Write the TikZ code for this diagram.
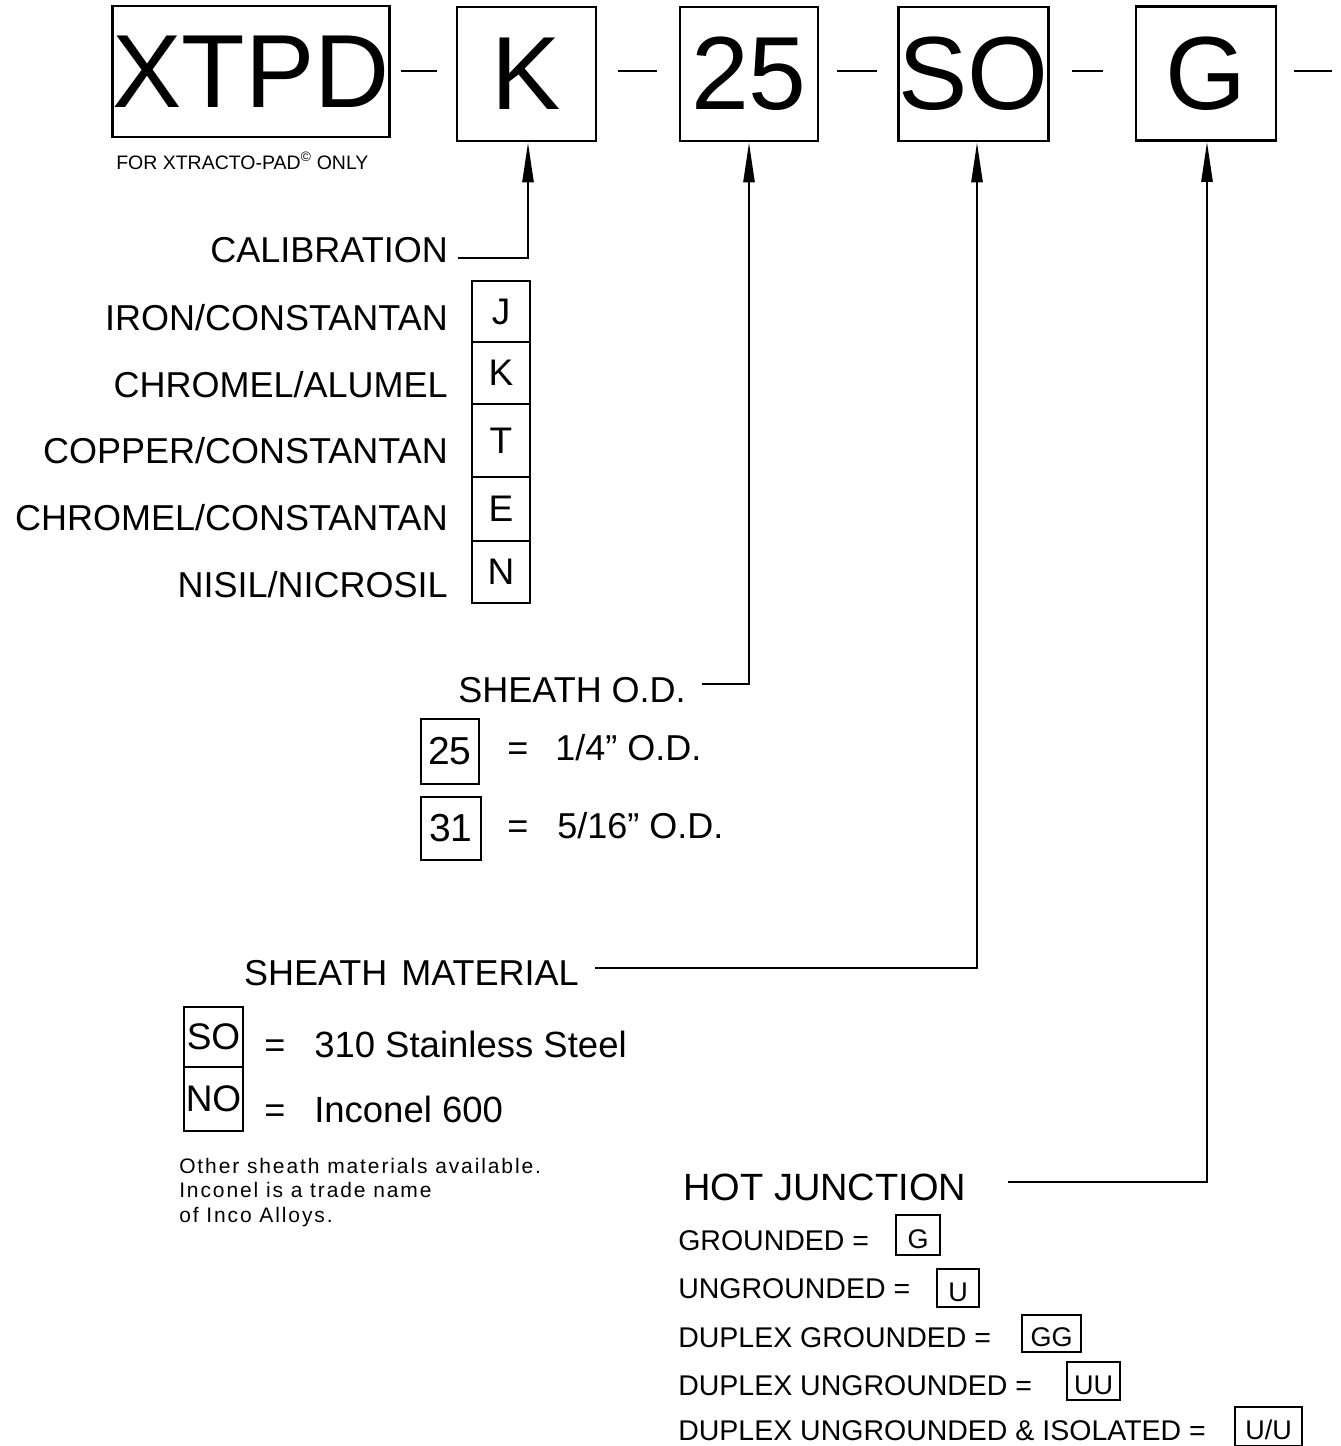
\documentclass[tikz,border=0pt]{standalone}
\usepackage{fontspec}
\setmainfont{Liberation Sans}
\newfontfamily\notefont[LetterSpace=9]{Liberation Sans}
\usetikzlibrary{arrows.meta}
\newcommand{\fsz}[1]{\fontsize{#1}{#1}\selectfont}

\begin{document}
\begin{tikzpicture}[
  x=1pt, y=-1pt,
  line width=2.5pt,
  codebox/.style={draw, inner sep=0pt, minimum height=134pt, font=\fsz{104}},
  keybox/.style={draw, line width=2pt, inner sep=0pt, font=\fsz{37}},
  tinybox/.style={draw, line width=2pt, inner sep=0pt, text height=26pt, text depth=0pt, font=\fsz{27}},
  lbl/.style={inner sep=0pt, font=\fsz{36}},
  entry/.style={inner sep=0pt, anchor=base west, font=\fsz{28.5}},
  feed/.style={-{Triangle[length=40pt,width=11pt]}}
]
\useasboundingbox (0,0) rectangle (1341,1446);
% part number
\node[codebox, minimum width=276pt, minimum height=131pt] (xtpd) at (251,71.5) {XTPD};
\node[codebox, minimum width=139pt] (calib) at (526.5,74) {K};
\node[codebox, minimum width=138pt] (od) at (749,74) {25};
\node[codebox, minimum width=139pt] (mat) at (973.5,74) {SO};
\node[codebox, minimum width=140pt] (junc) at (1206,73.5) {G};
\foreach \a/\b in {401/437, 618/657, 837/877, 1072/1103, 1294/1332}
  \draw[line width=2pt] (\a,71) -- (\b,71);
\node[inner sep=0pt, anchor=base west, font=\fsz{19.5}] (padnote) at (115,169)
  {FOR XTRACTO-PAD\textsuperscript{\textcopyright} ONLY};

% calibration
\node[lbl, anchor=base east] (callbl) at (449,262) {CALIBRATION};
\coordinate (calturn) at (528,258);
\draw[feed] ([xshift=9pt]callbl.east |- calturn) -- (calturn) -- (calturn |- calib.south);
\foreach \txt/\ltr/\base/\mid/\hgt in {{IRON/CONSTANTAN}/J/330/311.5/61,
    {CHROMEL/ALUMEL}/K/397/373/62, {COPPER/CONSTANTAN}/T/463/440.5/73,
    {CHROMEL/CONSTANTAN}/E/530/509/64, {NISIL/NICROSIL}/N/597/572/62}{
  \node[lbl, anchor=base east] (cal-\ltr) at (449,\base) {\txt};
  \node[keybox, minimum width=58pt, minimum height=\hgt pt] (key-\ltr) at (501,\mid) {\ltr};
}

% sheath o.d.
\node[lbl, anchor=base east] (odlbl) at (687,702) {SHEATH O.D.};
\coordinate (odturn) at (749,684);
\draw[feed] ([xshift=15pt]odlbl.east |- odturn) -- (odturn) -- (od.south);
\node[keybox, minimum width=58pt, minimum height=65pt, font=\fsz{39}] (od25) at (450,751.5) {25};
\node[keybox, minimum width=60pt, minimum height=63pt, font=\fsz{39}] (od31) at (451,828.5) {31};
\node[lbl, anchor=base west] (od25eq) at (506,760) {=};
\node[lbl, anchor=base west] (od25txt) at (554,760) {1/4” O.D.};
\node[lbl, anchor=base west] (od31eq) at (506,838) {=};
\node[lbl, anchor=base west] (od31txt) at (556,838) {5/16” O.D.};

% sheath material
\node[lbl, anchor=base east] (matlbl) at (580,985) {SHEATH\hspace{4pt} MATERIAL};
\coordinate (matturn) at (977,968);
\draw[feed] ([xshift=15pt]matlbl.east |- matturn) -- (matturn) -- (matturn |- mat.south);
\node[keybox, minimum width=59pt, minimum height=60pt] (matso) at (213.5,1037) {SO};
\node[keybox, minimum width=59pt, minimum height=64pt] (matno) at (213.5,1099) {NO};
\node[lbl, anchor=base west] (matsoeq) at (263,1057) {=};
\node[lbl, anchor=base west, font=\fsz{36.5}] (matsotxt) at (313,1057) {310 Stainless Steel};
\node[lbl, anchor=base west] (matnoeq) at (263,1122) {=};
\node[lbl, anchor=base west, font=\fsz{36.5}] (matnotxt) at (313,1122) {Inconel 600};
\node[inner sep=0pt, anchor=north west, align=left, font=\notefont\fontsize{21}{24.5}\selectfont]
  (matnote) at (178,1157) {Other sheath materials available.\\Inconel is a trade name\\of Inco Alloys.};

% hot junction
\node[lbl, anchor=base west, font=\fsz{38}] (hotlbl) at (682,1200) {HOT JUNCTION};
\coordinate (hotturn) at (1207,1182);
\draw[feed] ([xshift=41pt]hotlbl.east |- hotturn) -- (hotturn) -- (hotturn |- junc.south);
\foreach \txt/\base/\code/\cx/\cy/\w/\h [count=\i] in {GROUNDED/1250/G/918/1235/44/40,
    UNGROUNDED/1298/U/958/1288/42/38, {DUPLEX GROUNDED}/1347/GG/1051.5/1333.5/59/37,
    {DUPLEX UNGROUNDED}/1395/UU/1093.5/1381/53/38,
    {DUPLEX UNGROUNDED \& ISOLATED}/1440/{U/U}/1268.5/1426.5/67/39}{
  \node[entry] (hot-\i) at (677,\base) {\txt{} =};
  \node[tinybox, minimum width=\w pt, minimum height=\h pt] (hotkey-\i) at (\cx,\cy) {\code};
}
\end{tikzpicture}
\end{document}
